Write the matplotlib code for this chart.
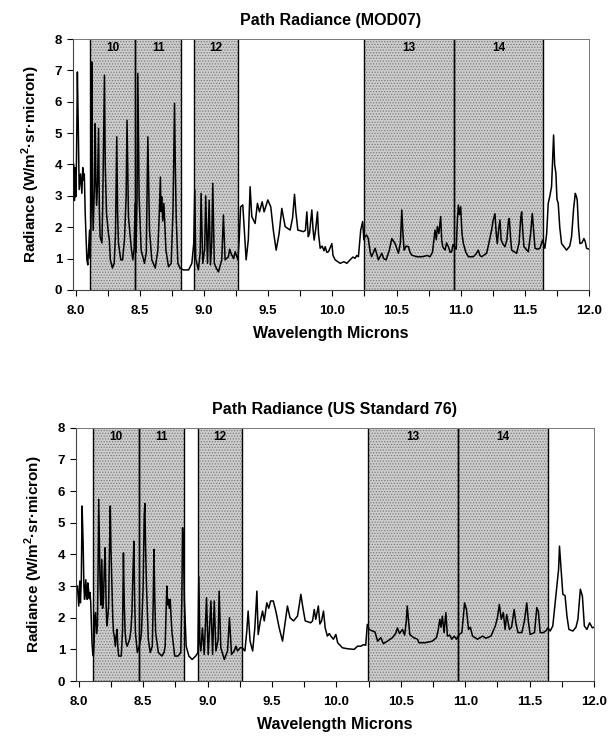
import matplotlib
matplotlib.use('Agg')
from matplotlib import pyplot as plt
from matplotlib.ticker import MultipleLocator, FormatStrFormatter

plt.rcParams['font.family'] = ['Liberation Sans', 'DejaVu Sans']
plt.rcParams['font.weight'] = 'bold'
plt.rcParams['mathtext.fontset'] = 'custom'
plt.rcParams['mathtext.bf'] = 'Liberation Sans:bold'
plt.rcParams['mathtext.rm'] = 'Liberation Sans:bold'
plt.rcParams['hatch.linewidth'] = 0.6

# MODIS bands: (label, lower edge, upper edge) in microns
band_names = ['10', '11', '12', '13', '14']
band_lo = [8.11, 8.465, 8.925, 10.245, 10.945]
band_hi = [8.465, 8.82, 9.265, 10.945, 11.645]

# path radiance, MOD07 profile
mod07_wl = [7.985, 7.990, 7.995, 8.000, 8.006, 8.013, 8.020, 8.027, 8.038, 8.048,
            8.055, 8.061, 8.067, 8.074, 8.087, 8.094, 8.100, 8.108, 8.114, 8.120,
            8.126, 8.131, 8.136, 8.145, 8.152, 8.157, 8.163, 8.170, 8.178, 8.184,
            8.190, 8.204, 8.210, 8.218, 8.224, 8.230, 8.240, 8.255, 8.262, 8.270,
            8.286, 8.300, 8.310, 8.320, 8.326, 8.333, 8.351, 8.365, 8.380, 8.393,
            8.400, 8.411, 8.432, 8.445, 8.455, 8.463, 8.470, 8.478, 8.484, 8.490,
            8.494, 8.510, 8.536, 8.550, 8.562, 8.575, 8.593, 8.620, 8.640, 8.650,
            8.660, 8.664, 8.670, 8.678, 8.687, 8.703, 8.723, 8.744, 8.758, 8.770,
            8.776, 8.783, 8.796, 8.814, 8.840, 8.880, 8.905, 8.920, 8.928, 8.935,
            8.956, 8.970, 8.977, 8.990, 9.005, 9.013, 9.027, 9.040, 9.050, 9.060,
            9.068, 9.080, 9.095, 9.112, 9.138, 9.151, 9.164, 9.190, 9.200, 9.210,
            9.230, 9.243, 9.264, 9.275, 9.285, 9.302, 9.328, 9.345, 9.359, 9.372,
            9.398, 9.416, 9.432, 9.453, 9.468, 9.497, 9.520, 9.540, 9.562, 9.585,
            9.606, 9.632, 9.671, 9.690, 9.705, 9.715, 9.731, 9.775, 9.790, 9.801,
            9.812, 9.822, 9.840, 9.850, 9.858, 9.872, 9.884, 9.892, 9.905, 9.920,
            9.935, 9.944, 9.957, 9.970, 9.996, 10.005, 10.022, 10.061, 10.090, 10.113,
            10.138, 10.160, 10.177, 10.190, 10.203, 10.212, 10.221, 10.236, 10.245, 10.254,
            10.267, 10.280, 10.295, 10.306, 10.320, 10.333, 10.359, 10.385, 10.400, 10.419,
            10.444, 10.463, 10.489, 10.515, 10.530, 10.541, 10.550, 10.559, 10.575, 10.593,
            10.605, 10.619, 10.658, 10.700, 10.740, 10.761, 10.780, 10.800, 10.810, 10.818,
            10.830, 10.844, 10.852, 10.860, 10.878, 10.890, 10.904, 10.918, 10.930, 10.940,
            10.951, 10.965, 10.975, 10.982, 10.990, 11.000, 11.010, 11.021, 11.040, 11.060,
            11.099, 11.120, 11.137, 11.150, 11.163, 11.202, 11.220, 11.241, 11.252, 11.267,
            11.277, 11.285, 11.295, 11.306, 11.315, 11.327, 11.345, 11.360, 11.372, 11.379,
            11.388, 11.397, 11.436, 11.455, 11.468, 11.475, 11.485, 11.493, 11.527, 11.545,
            11.558, 11.568, 11.579, 11.600, 11.618, 11.638, 11.656, 11.670, 11.682, 11.695,
            11.708, 11.718, 11.724, 11.732, 11.742, 11.750, 11.760, 11.772, 11.786, 11.825,
            11.850, 11.864, 11.880, 11.893, 11.900, 11.908, 11.918, 11.929, 11.945, 11.960,
            11.970, 11.981, 12.000]
mod07_rad = [4.0, 2.85, 3.9, 2.97, 4.1, 6.95, 5.2, 3.2, 3.7, 3.08,
             3.9, 3.5, 3.7, 2.44, 0.96, 0.8, 1.3, 1.91, 1.0, 2.5,
             7.27, 3.0, 1.9, 3.2, 5.3, 3.5, 2.7, 3.4, 5.15, 2.6,
             1.7, 1.5, 2.6, 5.0, 6.85, 4.0, 2.44, 1.8, 1.6, 0.96,
             0.7, 0.85, 1.8, 4.88, 2.5, 1.5, 0.96, 0.96, 1.6, 3.0,
             5.41, 2.33, 1.38, 0.96, 1.3, 2.76, 1.2, 3.0, 6.9, 4.5,
             2.97, 1.27, 0.85, 1.2, 4.88, 1.9, 0.96, 0.7, 1.27, 2.3,
             3.6, 2.5, 2.97, 2.2, 2.76, 1.27, 0.74, 0.85, 2.5, 5.95,
             4.0, 2.33, 0.85, 0.69, 0.64, 0.64, 0.85, 1.5, 3.2, 1.0,
             0.64, 1.2, 3.08, 0.85, 1.3, 3.0, 0.85, 2.86, 0.8, 1.5,
             3.4, 0.85, 0.7, 0.58, 0.96, 2.39, 0.96, 1.06, 1.3, 1.17,
             1.0, 1.22, 0.96, 1.7, 2.65, 2.71, 0.96, 1.6, 3.29, 2.34,
             2.12, 2.76, 2.49, 2.81, 2.49, 2.87, 2.65, 1.9, 1.27, 1.8,
             2.6, 2.02, 1.91, 2.3, 3.05, 2.5, 1.91, 1.86, 1.9, 2.49,
             1.7, 1.81, 2.55, 1.9, 1.59, 2.0, 2.49, 1.8, 1.33, 1.4,
             1.25, 1.38, 1.2, 1.22, 1.48, 1.1, 0.96, 0.85, 0.9, 0.85,
             0.96, 1.05, 1.01, 1.1, 1.06, 1.5, 1.91, 2.18, 1.6, 1.70,
             1.75, 1.64, 1.2, 1.06, 1.2, 1.33, 0.96, 1.17, 1.0, 0.96,
             1.27, 1.64, 1.48, 1.17, 1.5, 2.55, 1.8, 1.27, 1.4, 1.38,
             1.2, 1.11, 1.06, 1.06, 1.1, 1.06, 1.2, 1.91, 1.6, 2.02,
             1.8, 2.34, 1.6, 1.38, 1.27, 1.5, 1.38, 1.2, 1.22, 1.45,
             1.38, 1.3, 2.3, 2.71, 2.4, 2.65, 1.8, 1.48, 1.2, 1.06,
             1.06, 1.15, 1.27, 1.1, 1.06, 1.17, 1.5, 1.91, 2.2, 2.43,
             1.8, 1.48, 1.9, 2.23, 1.6, 1.48, 1.38, 1.6, 2.2, 2.28,
             1.7, 1.27, 1.17, 1.5, 2.3, 2.49, 1.8, 1.38, 1.22, 1.8,
             2.44, 1.9, 1.33, 1.3, 1.33, 1.59, 1.33, 1.8, 2.76, 3.0,
             3.29, 4.3, 4.94, 4.0, 3.72, 2.9, 2.76, 2.0, 1.48, 1.27,
             1.4, 1.70, 2.6, 3.08, 3.0, 2.87, 2.0, 1.48, 1.5, 1.64,
             1.55, 1.33, 1.30]

# path radiance, US Standard 76 profile
us76_wl = [7.990, 8.000, 8.008, 8.013, 8.020, 8.026, 8.030, 8.034, 8.040, 8.045,
           8.055, 8.060, 8.066, 8.070, 8.076, 8.082, 8.087, 8.093, 8.097, 8.103,
           8.108, 8.113, 8.118, 8.124, 8.130, 8.138, 8.145, 8.150, 8.155, 8.160,
           8.166, 8.172, 8.179, 8.185, 8.192, 8.198, 8.205, 8.212, 8.218, 8.225,
           8.232, 8.238, 8.245, 8.250, 8.258, 8.264, 8.270, 8.277, 8.284, 8.290,
           8.297, 8.303, 8.310, 8.330, 8.340, 8.347, 8.353, 8.360, 8.368, 8.376,
           8.385, 8.395, 8.405, 8.413, 8.420, 8.428, 8.434, 8.440, 8.455, 8.470,
           8.480, 8.487, 8.500, 8.508, 8.513, 8.519, 8.526, 8.540, 8.555, 8.571,
           8.578, 8.584, 8.590, 8.597, 8.618, 8.645, 8.662, 8.671, 8.678, 8.684,
           8.690, 8.697, 8.703, 8.710, 8.717, 8.724, 8.745, 8.771, 8.792, 8.800,
           8.806, 8.812, 8.820, 8.834, 8.855, 8.880, 8.908, 8.925, 8.932, 8.940,
           8.948, 8.960, 8.974, 8.992, 9.005, 9.026, 9.039, 9.052, 9.065, 9.082,
           9.090, 9.103, 9.130, 9.155, 9.170, 9.186, 9.207, 9.220, 9.233, 9.253,
           9.270, 9.290, 9.305, 9.315, 9.330, 9.350, 9.367, 9.383, 9.393, 9.410,
           9.427, 9.440, 9.460, 9.475, 9.490, 9.510, 9.530, 9.556, 9.582, 9.600,
           9.620, 9.640, 9.667, 9.698, 9.712, 9.724, 9.740, 9.758, 9.800, 9.815,
           9.828, 9.840, 9.860, 9.872, 9.885, 9.900, 9.913, 9.930, 9.945, 9.957,
           9.977, 9.996, 10.010, 10.047, 10.086, 10.138, 10.164, 10.190, 10.210, 10.228,
           10.240, 10.254, 10.280, 10.300, 10.320, 10.345, 10.365, 10.396, 10.435, 10.460,
           10.474, 10.490, 10.513, 10.530, 10.543, 10.550, 10.558, 10.570, 10.600, 10.630,
           10.640, 10.690, 10.745, 10.777, 10.790, 10.803, 10.812, 10.823, 10.836, 10.850,
           10.862, 10.880, 10.896, 10.915, 10.932, 10.953, 10.974, 10.985, 10.995, 11.010,
           11.026, 11.040, 11.057, 11.096, 11.135, 11.160, 11.200, 11.234, 11.250, 11.265,
           11.280, 11.296, 11.310, 11.322, 11.343, 11.360, 11.380, 11.395, 11.410, 11.440,
           11.460, 11.478, 11.490, 11.504, 11.538, 11.556, 11.568, 11.582, 11.608, 11.630,
           11.642, 11.660, 11.680, 11.693, 11.712, 11.725, 11.732, 11.743, 11.758, 11.775,
           11.790, 11.805, 11.836, 11.860, 11.875, 11.894, 11.910, 11.925, 11.945, 11.966,
           11.987, 12.000]
us76_rad = [3.0, 2.37, 3.16, 2.47, 3.2, 5.53, 5.0, 4.37, 3.0, 2.58,
            3.2, 2.7, 2.58, 3.1, 2.9, 2.6, 2.8, 2.5, 1.95, 1.2,
            0.9, 0.8, 1.1, 2.0, 2.16, 1.5, 1.74, 3.5, 5.74, 4.5,
            3.0, 2.4, 3.84, 2.3, 2.58, 3.5, 4.21, 2.5, 1.74, 2.0,
            2.37, 4.0, 5.53, 4.2, 3.0, 2.0, 1.53, 1.4, 1.1, 1.4,
            1.63, 1.1, 0.79, 0.79, 1.6, 4.05, 2.5, 1.53, 1.2, 1.1,
            1.2, 1.32, 1.6, 2.16, 3.3, 4.42, 2.6, 1.53, 0.9, 1.1,
            1.3, 1.53, 3.0, 5.2, 5.61, 4.2, 3.0, 1.32, 0.9, 1.1,
            2.5, 4.16, 2.6, 1.53, 0.9, 0.79, 0.9, 1.1, 2.2, 3.0,
            2.4, 2.58, 2.3, 2.58, 2.0, 1.53, 0.79, 0.79, 0.9, 2.5,
            4.84, 4.5, 2.58, 1.1, 0.79, 0.68, 0.79, 0.9, 3.3, 1.2,
            0.95, 1.68, 0.84, 2.63, 0.84, 2.53, 0.84, 2.53, 0.95, 1.3,
            2.84, 1.05, 0.68, 0.95, 2.0, 0.84, 0.95, 1.1, 0.95, 1.05,
            1.05, 0.95, 1.6, 2.21, 1.26, 0.95, 1.68, 2.84, 1.47, 1.9,
            2.21, 1.9, 2.47, 2.3, 2.53, 2.53, 2.21, 1.68, 1.26, 1.79,
            2.37, 2.0, 1.9, 2.05, 2.4, 2.74, 2.32, 1.9, 1.84, 1.9,
            2.26, 1.95, 2.37, 1.8, 1.9, 2.21, 1.68, 1.42, 1.5, 1.42,
            1.32, 1.47, 1.21, 1.05, 1.02, 1.0, 1.1, 1.1, 1.15, 1.13,
            1.79, 1.63, 1.58, 1.55, 1.26, 1.37, 1.18, 1.26, 1.37, 1.5,
            1.68, 1.5, 1.63, 1.45, 1.9, 2.37, 2.0, 1.47, 1.37, 1.32,
            1.21, 1.21, 1.26, 1.37, 1.6, 1.95, 1.7, 2.05, 1.53, 2.16,
            1.42, 1.45, 1.32, 1.42, 1.32, 1.47, 1.53, 2.0, 2.47, 2.26,
            1.63, 1.7, 1.42, 1.32, 1.42, 1.35, 1.42, 1.74, 2.0, 2.42,
            1.95, 2.16, 1.63, 2.1, 1.63, 1.7, 2.26, 1.8, 1.53, 1.53,
            1.9, 2.47, 1.9, 1.47, 1.53, 2.32, 2.2, 1.53, 1.53, 1.6,
            1.68, 1.58, 1.74, 2.26, 3.0, 3.53, 4.26, 3.63, 2.74, 2.7,
            2.05, 1.63, 1.58, 1.7, 1.95, 2.9, 2.68, 1.74, 1.63, 1.84,
            1.68, 1.7]


def draw_panel(ax, wl, rad, title):
    for name, lo, hi in zip(band_names, band_lo, band_hi):
        ax.axvspan(lo, hi, facecolor='#cdcdcd', edgecolor='#7c7c7c',
                   hatch='......', linewidth=0, zorder=1)
        ax.axvline(lo, color='black', lw=1.0, zorder=2)
        ax.axvline(hi, color='black', lw=1.0, zorder=2)
        ax.text((lo + hi) / 2, 7.7, name, ha='center', va='center',
                fontsize=8.5, fontweight='bold', zorder=4)
    ax.plot(wl, rad, color='black', lw=1.1, zorder=3)

    ax.set_xlim(7.975, 12.0)
    ax.set_ylim(0, 8)
    ax.xaxis.set_major_locator(MultipleLocator(0.5))
    ax.xaxis.set_minor_locator(MultipleLocator(0.25))
    ax.xaxis.set_major_formatter(FormatStrFormatter('%.1f'))
    ax.yaxis.set_major_locator(MultipleLocator(1))
    ax.tick_params(axis='both', which='both', direction='out', length=4,
                   width=0.8, labelsize=9.5)
    ax.tick_params(axis='x', which='major', pad=7)
    for lab in ax.get_xticklabels() + ax.get_yticklabels():
        lab.set_fontweight('bold')
    for side in ['top', 'right']:
        ax.spines[side].set_color('#777777')
        ax.spines[side].set_linewidth(0.7)
    for side in ['left', 'bottom']:
        ax.spines[side].set_color('#444444')
        ax.spines[side].set_linewidth(0.8)

    ax.set_title(title, fontsize=11.5, fontweight='bold', pad=10)
    ax.set_xlabel('Wavelength Microns', fontsize=11.5, fontweight='bold', labelpad=6)
    ax.set_ylabel(r'Radiance (W/m$^\mathbf{2}$·sr·micron)', fontsize=11,
                  fontweight='bold', labelpad=9)


fig = plt.figure(figsize=(6.16, 7.36), dpi=100)
ax_top = fig.add_axes([0.1177, 0.606, 0.8385, 0.341])
ax_bot = fig.add_axes([0.1226, 0.0747, 0.8417, 0.344])

draw_panel(ax_top, mod07_wl, mod07_rad, 'Path Radiance (MOD07)')
draw_panel(ax_bot, us76_wl, us76_rad, 'Path Radiance (US Standard 76)')

fig.savefig('out.png', dpi=100)
